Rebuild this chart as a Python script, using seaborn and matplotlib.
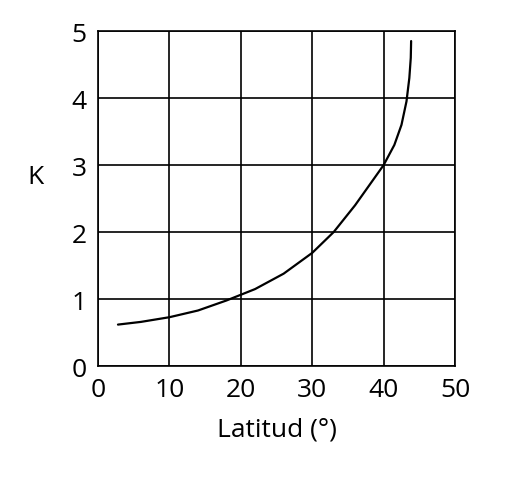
import matplotlib
matplotlib.use("Agg")
import matplotlib.pyplot as plt
import seaborn as sns
import pandas as pd

latitud = [2.8, 6, 10, 14, 18, 22, 26, 30, 33, 36, 38, 40, 41.5, 42.5, 43.2, 43.6, 43.8, 43.85]
k_vals = [0.62, 0.66, 0.73, 0.83, 0.98, 1.15, 1.38, 1.69, 2.0, 2.4, 2.7, 3.0, 3.3, 3.6, 3.95, 4.3, 4.6, 4.85]
xticks = [0, 10, 20, 30, 40, 50]
yticks = [0, 1, 2, 3, 4, 5]

sns.set_theme(style="white")
plt.rcParams['font.family'] = ['Open Sans', 'DejaVu Sans']

fig = plt.figure(figsize=(5.09, 4.85), dpi=100)
ax = fig.add_axes([0.1925, 0.243, 0.7015, 0.691])
df = pd.DataFrame({"lat": latitud, "k": k_vals})
sns.lineplot(data=df, x="lat", y="k", ax=ax, color="black", linewidth=1.6, sort=False)
ax.set_xlim(0, 50)
ax.set_ylim(0, 5)
ax.set_xticks(xticks)
ax.set_yticks(yticks)
ax.grid(True, color="black", linewidth=1.2)
for s in ax.spines.values():
    s.set_color("black")
    s.set_linewidth(1.2)
ax.tick_params(labelsize=19, colors="black", length=0, pad=8)
ax.set_xlabel("Latitud (°)", fontsize=19, color="black", labelpad=10)
ax.set_ylabel("K", fontsize=19, color="black", rotation=0)
ax.yaxis.set_label_coords(-0.175, 0.53)
fig.savefig("out.png", dpi=100)
